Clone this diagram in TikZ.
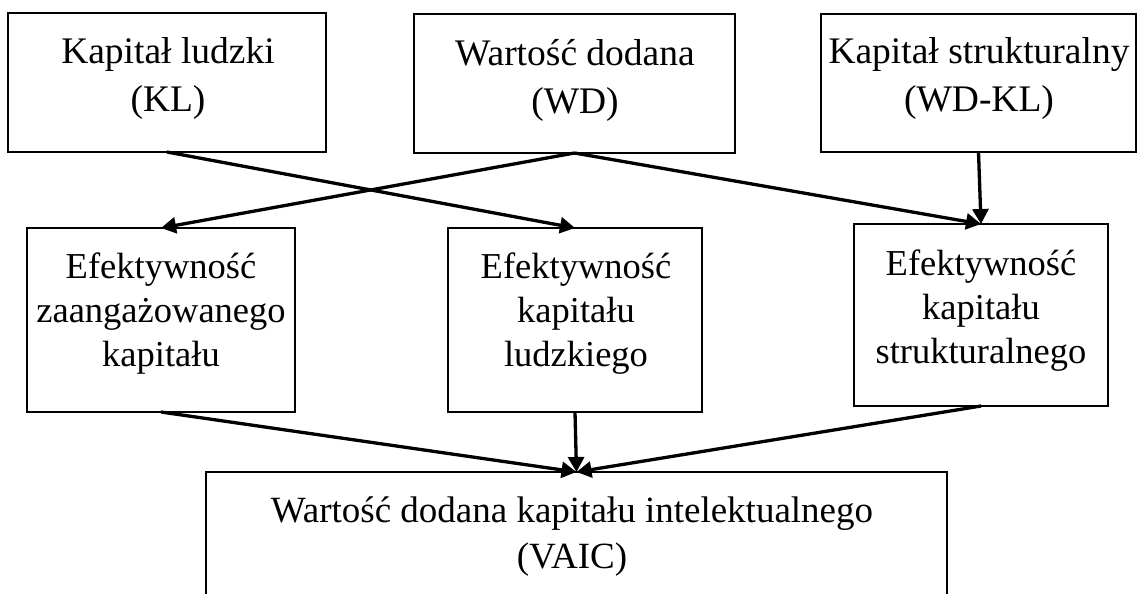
\documentclass[tikz,border=0pt]{standalone}
\usepackage{fontspec}
\setmainfont{Liberation Serif}
\usetikzlibrary{arrows.meta}
\begin{document}
\begin{tikzpicture}[x=1pt,y=-1pt,
  box/.style={draw, line width=1.3pt, inner sep=0pt, outer sep=0pt},
  txt/.style={align=center, inner sep=0pt, outer sep=0pt, anchor=north},
  topfont/.style={font=\fontsize{37.5}{48}\selectfont},
  midfont/.style={font=\fontsize{36.5}{44}\selectfont},
  botfont/.style={font=\fontsize{37}{46}\selectfont},
  arr/.style={line width=3.3pt, -{Triangle[length=15pt,width=16pt]}}]
\useasboundingbox (0,0) rectangle (1138,594);
\clip (0,0) rectangle (1138,594);
% top row
\node[box, minimum width=318pt, minimum height=139pt] (kl) at (167,82.5) {};
\node[box, minimum width=321pt, minimum height=139pt] (wd) at (574.5,83.5) {};
\node[box, minimum width=315pt, minimum height=138pt] (sk) at (978.5,83) {};
% middle row
\node[box, minimum width=268pt, minimum height=184pt] (ml) at (161,320) {};
\node[box, minimum width=254pt, minimum height=184pt] (mc) at (575,320) {};
\node[box, minimum width=254pt, minimum height=182pt] (mr) at (981,315) {};
% bottom
\node[box, minimum width=741pt, minimum height=170pt] (vaic) at (576.5,557) {};
% texts
\node[txt, topfont] (klt) at (168,37) {Kapitał ludzki\\(KL)};
\node[txt, topfont] (wdt) at (575,39) {Wartość dodana\\(WD)};
\node[txt, topfont] (skt) at (979,37) {Kapitał strukturalny\\(WD-KL)};
\node[txt, midfont] (mlt) at (161,253) {Efektywność\\zaangażowanego\\kapitału};
\node[txt, midfont] (mct) at (576,253) {Efektywność\\kapitału\\ludzkiego};
\node[txt, midfont] (mrt) at (981,250) {Efektywność\\kapitału\\strukturalnego};
\node[txt, botfont] (vaict) at (572,497) {Wartość dodana kapitału intelektualnego\\(VAIC)};
% connectors
\draw[arr] (kl.south) -- (mc.north);
\draw[arr] (wd.south) -- (ml.north);
\draw[arr] (wd.south) -- (mr.north);
\draw[arr] (sk.south) -- (mr.north);
\draw[arr] (ml.south) -- (vaic.north);
\draw[arr] (mc.south) -- (vaic.north);
\draw[arr] (mr.south) -- (vaic.north);
\end{tikzpicture}
\end{document}
